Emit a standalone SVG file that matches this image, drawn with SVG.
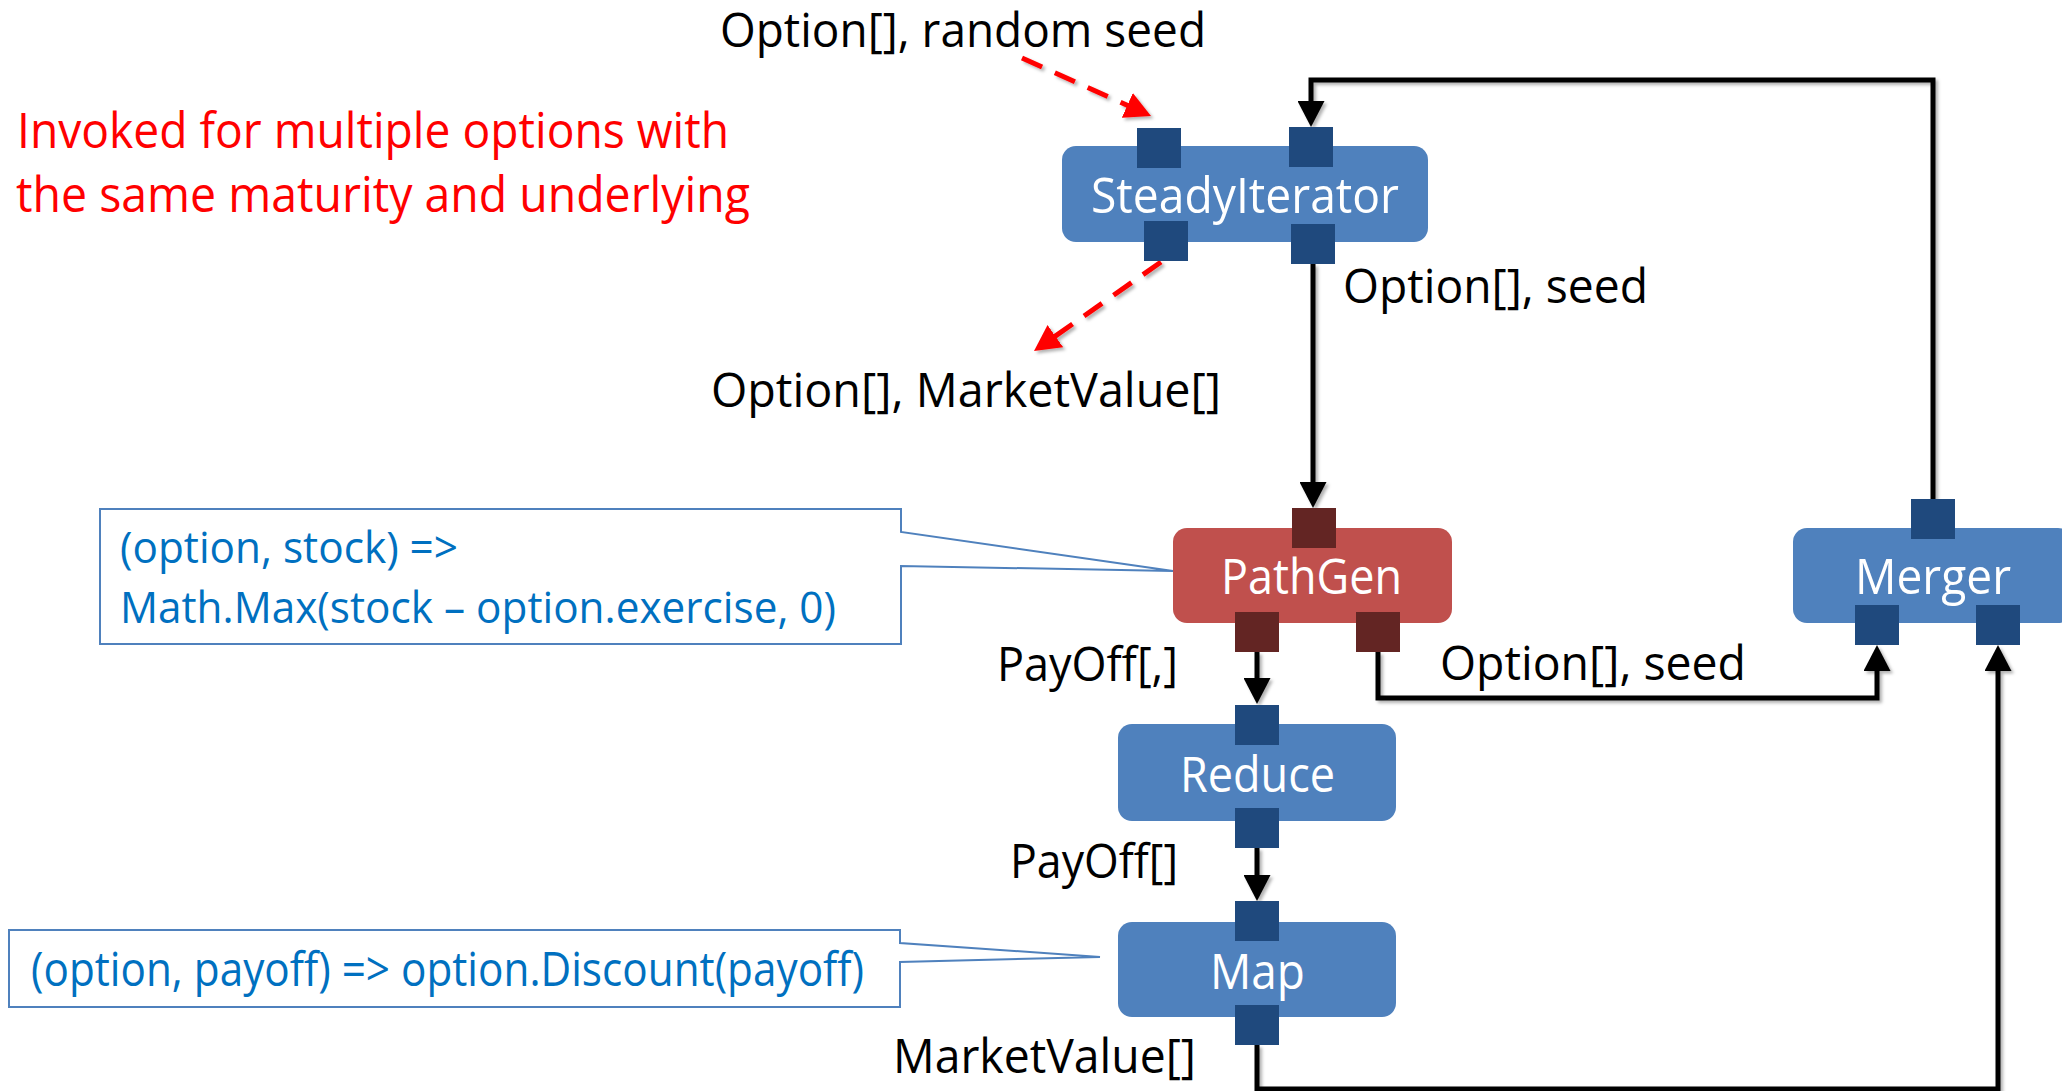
<svg xmlns="http://www.w3.org/2000/svg" width="2062" height="1091" viewBox="0 0 2062 1091">
  <style>
    text { font-family: "Open Sans", "Noto Sans", sans-serif; }
    .lbl { font-size: 48px; fill: #000000; }
    .node-label { font-size: 50px; fill: #FFFFFF; }
    .note { font-size: 49px; fill: #FF0000; }
    .code { font-size: 47px; fill: #0070C0; }
    .code-tight { font-size: 44px; fill: #0070C0; }
    .box-blue { fill: #4F81BD; }
    .box-red { fill: #C0504D; }
    .port-blue { fill: #1F497D; }
    .port-red { fill: #632523; }
    .callout { fill: #FFFFFF; stroke: #4F81BD; stroke-width: 2; }
    .flow { fill: none; stroke: #000000; stroke-width: 5; marker-end: url(#arrow-black); }
    .side { fill: none; stroke: #FF0000; stroke-width: 5; stroke-dasharray: 22 14; marker-end: url(#arrow-red); }
  </style>
  <defs>
    <marker id="arrow-black" markerUnits="userSpaceOnUse" markerWidth="27" markerHeight="27" refX="16" refY="13.5" orient="auto">
      <path d="M0,0 L26,13.5 L0,27 Z" fill="#000000"/>
    </marker>
    <marker id="arrow-red" markerUnits="userSpaceOnUse" markerWidth="27" markerHeight="27" refX="16" refY="13.5" orient="auto">
      <path d="M0,0 L26,13.5 L0,27 Z" fill="#FF0000"/>
    </marker>
    <filter id="soft-shadow" x="-5%" y="-5%" width="110%" height="110%">
      <feDropShadow dx="2.5" dy="2.5" stdDeviation="1.5" flood-color="#000000" flood-opacity="0.3"/>
    </filter>
  </defs>

  <rect width="2062" height="1091" fill="#FFFFFF"/>

  <!-- free-standing annotation -->
  <g id="note">
    <text class="note" x="17" y="148" textLength="712" lengthAdjust="spacingAndGlyphs">Invoked for multiple options with</text>
    <text class="note" x="16" y="212" textLength="734" lengthAdjust="spacingAndGlyphs">the same maturity and underlying</text>
  </g>

  <!-- lambda callouts -->
  <g id="callout-payoff">
    <path class="callout" d="M100,509 H901 V532 L1173,571 L901,566 V644 H100 Z"/>
    <text class="code-tight" x="120" y="563" textLength="338" lengthAdjust="spacingAndGlyphs">(option, stock) =&gt;</text>
    <text class="code-tight" x="120" y="623" textLength="716" lengthAdjust="spacingAndGlyphs">Math.Max(stock – option.exercise, 0)</text>
  </g>
  <g id="callout-discount">
    <path class="callout" d="M9,930 H900 V943 L1100,957 L900,962 V1007 H9 Z"/>
    <text class="code" x="31" y="986" textLength="833" lengthAdjust="spacingAndGlyphs">(option, payoff) =&gt; option.Discount(payoff)</text>
  </g>

  <!-- connectors -->
  <g id="connectors" filter="url(#soft-shadow)">
    <path class="side" d="M1022,58 L1141.9,111.9"/>
    <path class="side" d="M1161,262 L1042.2,345.3"/>
    <path class="flow" d="M1933,499 V80 H1311 V117"/>
    <path class="flow" d="M1313,264 V498"/>
    <path class="flow" d="M1257,652 V694"/>
    <path class="flow" d="M1378,652 V698 H1877 V655"/>
    <path class="flow" d="M1257,848 V891"/>
    <path class="flow" d="M1257,1045 V1089 H1998 V655"/>
  </g>

  <!-- edge labels -->
  <g id="labels">
    <text class="lbl" x="720" y="47" textLength="486" lengthAdjust="spacingAndGlyphs">Option[], random seed</text>
    <text class="lbl" x="1343" y="303" textLength="305" lengthAdjust="spacingAndGlyphs">Option[], seed</text>
    <text class="lbl" x="711" y="407" textLength="510" lengthAdjust="spacingAndGlyphs">Option[], MarketValue[]</text>
    <text class="lbl" x="997" y="681" textLength="181" lengthAdjust="spacingAndGlyphs">PayOff[,]</text>
    <text class="lbl" x="1440" y="680" textLength="306" lengthAdjust="spacingAndGlyphs">Option[], seed</text>
    <text class="lbl" x="1010" y="878" textLength="168" lengthAdjust="spacingAndGlyphs">PayOff[]</text>
    <text class="lbl" x="893" y="1073" textLength="303" lengthAdjust="spacingAndGlyphs">MarketValue[]</text>
  </g>

  <!-- nodes -->
  <g id="steady-iterator">
    <rect class="box-blue" x="1062" y="146" width="366" height="96" rx="14"/>
    <rect class="port-blue" x="1137" y="128" width="44" height="40"/>
    <rect class="port-blue" x="1289" y="127" width="44" height="40"/>
    <rect class="port-blue" x="1144" y="221" width="44" height="40"/>
    <rect class="port-blue" x="1291" y="224" width="44" height="40"/>
    <text class="node-label" x="1091" y="213" textLength="308" lengthAdjust="spacingAndGlyphs">SteadyIterator</text>
  </g>

  <g id="path-gen">
    <rect class="box-red" x="1173" y="528" width="279" height="95" rx="14"/>
    <rect class="port-red" x="1292" y="508" width="44" height="40"/>
    <rect class="port-red" x="1235" y="612" width="44" height="40"/>
    <rect class="port-red" x="1356" y="612" width="44" height="40"/>
    <text class="node-label" x="1221" y="594" textLength="181" lengthAdjust="spacingAndGlyphs">PathGen</text>
  </g>

  <g id="merger">
    <rect class="box-blue" x="1793" y="528" width="279" height="95" rx="14"/>
    <rect class="port-blue" x="1911" y="499" width="44" height="40"/>
    <rect class="port-blue" x="1855" y="605" width="44" height="40"/>
    <rect class="port-blue" x="1976" y="605" width="44" height="40"/>
    <text class="node-label" x="1855" y="594" textLength="156" lengthAdjust="spacingAndGlyphs">Merger</text>
  </g>

  <g id="reduce">
    <rect class="box-blue" x="1118" y="724" width="278" height="97" rx="14"/>
    <rect class="port-blue" x="1235" y="705" width="44" height="40"/>
    <rect class="port-blue" x="1235" y="808" width="44" height="40"/>
    <text class="node-label" x="1180" y="792" textLength="155" lengthAdjust="spacingAndGlyphs">Reduce</text>
  </g>

  <g id="map">
    <rect class="box-blue" x="1118" y="922" width="278" height="95" rx="14"/>
    <rect class="port-blue" x="1235" y="901" width="44" height="40"/>
    <rect class="port-blue" x="1235" y="1005" width="44" height="40"/>
    <text class="node-label" x="1210" y="989" textLength="95" lengthAdjust="spacingAndGlyphs">Map</text>
  </g>
</svg>
